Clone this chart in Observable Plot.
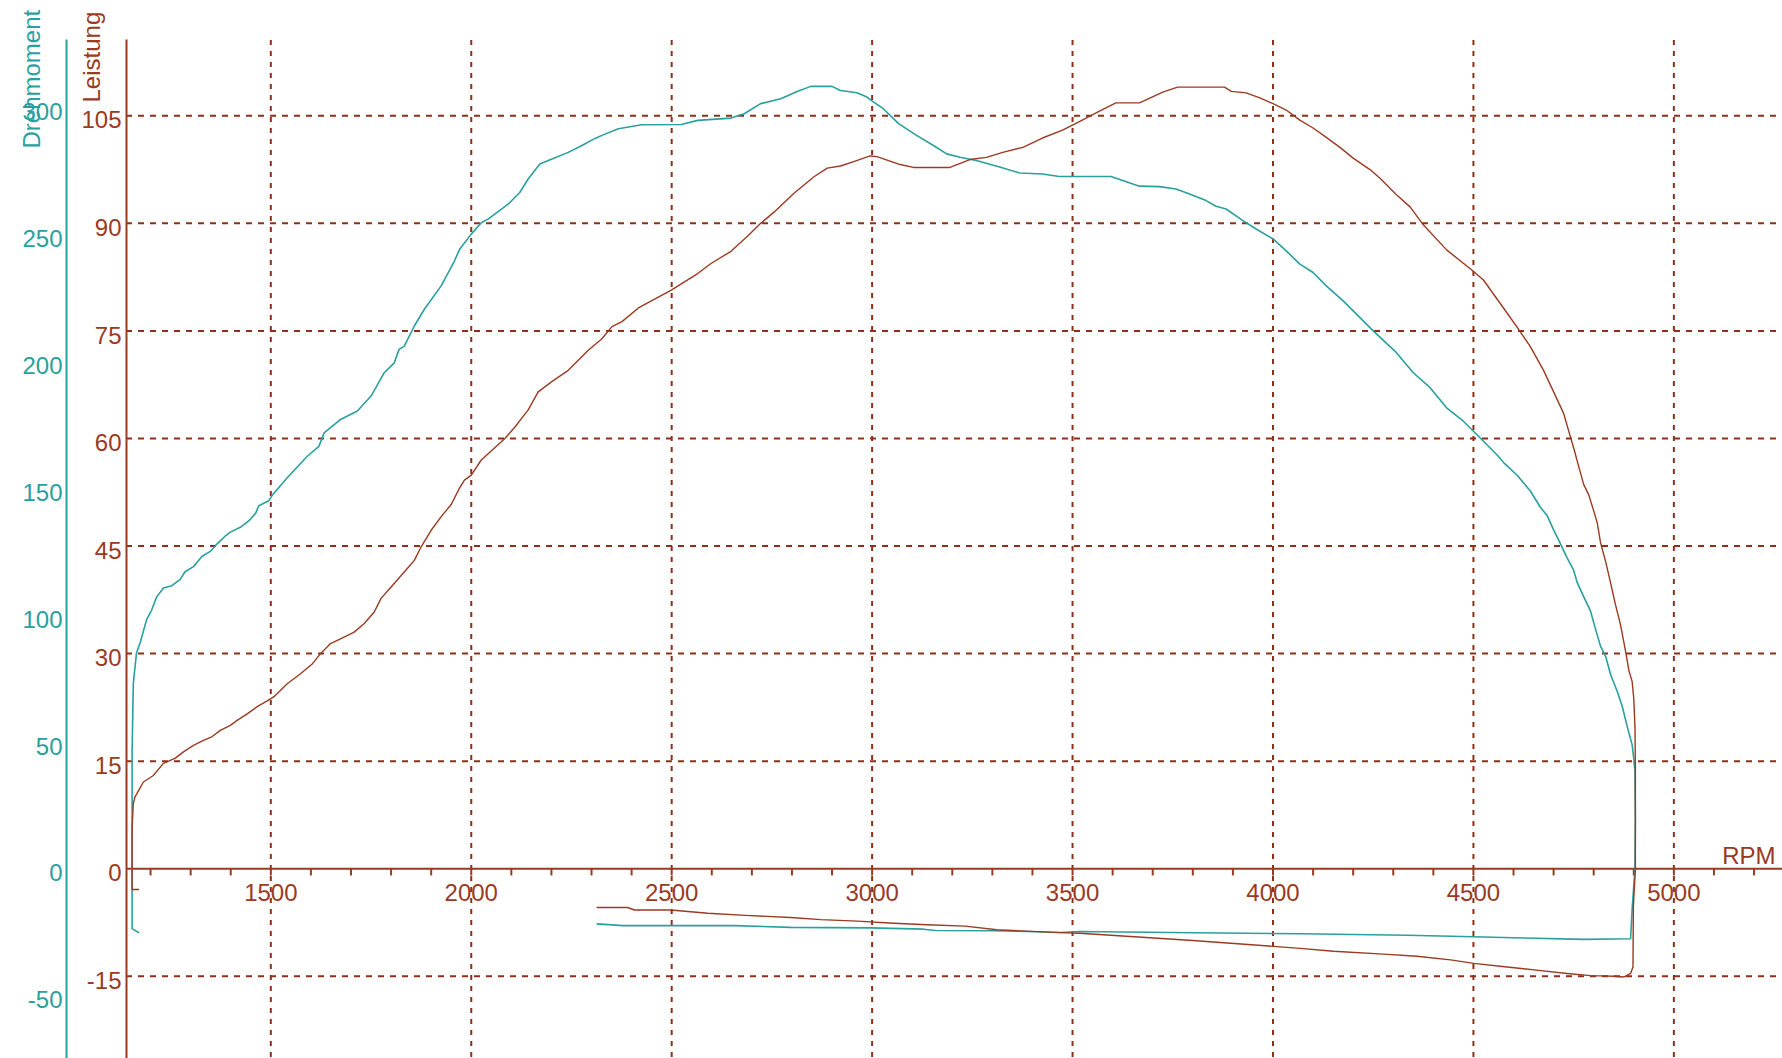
<!DOCTYPE html>
<html>
<head>
<meta charset="utf-8">
<script src="https://cdn.jsdelivr.net/npm/d3@7"></script>
<script src="https://cdn.jsdelivr.net/npm/@observablehq/plot@0.6"></script>
<style>
html, body { margin: 0; padding: 0; background: #fff; }
svg { display: block; }
</style>
</head>
<body>
<div id="chart"></div>
<script>
// Leistung (power) : [RPM, value]
const leistung = [[1170,-2.9],[1154,-2.9],[1154,0],[1154,5.8],[1157,9.1],[1161,10],[1170,10.9],[1182,12.1],[1207,13],[1232,14.7],[1245,15],[1261,15.4],[1282,16.3],[1307,17.2],[1332,17.9],[1353,18.4],[1374,19.3],[1399,20],[1416,20.7],[1441,21.6],[1466,22.6],[1491,23.4],[1508,24],[1541,25.8],[1574,27.2],[1604,28.6],[1624,30],[1649,31.4],[1675,32.1],[1708,33],[1733,34.2],[1758,35.8],[1775,37.7],[1800,39.3],[1816,40.3],[1841,41.9],[1858,43],[1875,44.9],[1900,47.2],[1925,49.1],[1950,50.8],[1970,53],[1983,54.2],[2000,54.9],[2025,57],[2084,60],[2109,61.6],[2142,64],[2167,66.5],[2200,67.9],[2242,69.5],[2292,72.3],[2326,73.9],[2351,75.6],[2376,76.3],[2417,78.2],[2499,80.7],[2565,83],[2598,84.4],[2648,86.1],[2689,88.2],[2722,90],[2756,91.6],[2805,94.2],[2855,96.5],[2888,97.7],[2921,98],[2954,98.6],[2995,99.4],[3012,99.3],[3070,98.2],[3103,97.8],[3194,97.8],[3244,98.9],[3285,99.2],[3326,99.9],[3376,100.6],[3425,101.9],[3475,103],[3517,104.2],[3566,105.6],[3608,106.8],[3667,106.8],[3725,108.3],[3762,109],[3879,109],[3896,108.4],[3933,108.2],[3967,107.5],[4000,106.7],[4033,105.8],[4067,104.4],[4100,103.3],[4133,102],[4167,100.6],[4200,99.1],[4242,97.5],[4267,96.3],[4308,94],[4342,92.3],[4375,89.8],[4433,86.3],[4496,83.5],[4525,82.1],[4575,78.2],[4608,75.6],[4642,72.8],[4675,69.5],[4700,66.5],[4725,63.5],[4742,60.2],[4751,58.5],[4763,56],[4775,53.6],[4788,52.1],[4800,49.9],[4809,48.2],[4817,45.5],[4830,42.8],[4842,39.9],[4854,36.9],[4867,34],[4879,30.5],[4888,27.6],[4896,26.1],[4900,23.7],[4903,19.7],[4904,14.3],[4904,0],[4899,-5.3],[4898,-13.7],[4892,-14.6],[4875,-15.1],[4850,-15],[4792,-14.9],[4734,-14.6],[4651,-14.1],[4584,-13.7],[4501,-13.2],[4443,-12.7],[4359,-12.2],[4276,-11.9],[4151,-11.5],[4068,-11.1],[3800,-10],[3518,-9],[3469,-8.9],[3386,-8.7],[3311,-8.5],[3232,-8],[3137,-7.8],[3054,-7.6],[2963,-7.3],[2872,-7.1],[2797,-6.8],[2685,-6.5],[2590,-6.2],[2498,-5.75],[2407,-5.75],[2390,-5.4],[2314,-5.4]];

// Drehmoment (torque) : [RPM, value]
const drehmoment = [[1170,-25.1],[1154,-23.6],[1154,0],[1154,46],[1157,73],[1165,85],[1174,89],[1182,93.5],[1190,98],[1203,102],[1215,107],[1232,110.6],[1253,111.5],[1274,114],[1286,117],[1307,119],[1328,123],[1349,125],[1366,128],[1386,131],[1399,132.6],[1424,134.5],[1445,137],[1462,140],[1470,143],[1495,145],[1503,147],[1541,154],[1591,162.5],[1620,166.4],[1633,171.7],[1674,177],[1716,180.3],[1750,186.2],[1783,195.4],[1808,199.3],[1820,204.6],[1833,205.9],[1858,213.8],[1883,220.4],[1925,229.6],[1958,239.4],[1971,244],[2000,250],[2025,254.5],[2042,255.9],[2092,261.8],[2121,266.4],[2142,271.7],[2171,277.6],[2200,279.5],[2242,282.2],[2275,284.8],[2309,287.7],[2326,288.9],[2367,291.5],[2425,293.1],[2524,293.2],[2565,294.8],[2648,295.7],[2681,297.4],[2722,301.4],[2772,303.3],[2813,306.2],[2847,308.2],[2900,308.2],[2921,306.6],[2962,305.7],[2987,304],[3004,302],[3028,299.4],[3066,293.5],[3111,288.9],[3153,284.9],[3186,281.6],[3219,280.3],[3260,279],[3318,276.4],[3368,274.1],[3425,273.7],[3467,272.7],[3596,272.7],[3625,271.1],[3667,268.9],[3717,268.7],[3758,267.8],[3792,265.8],[3833,263.2],[3858,261],[3883,259.9],[3925,255.3],[3958,252],[4000,248.1],[4033,243.4],[4067,238.2],[4100,234.9],[4133,229.6],[4175,223.7],[4217,217.1],[4250,211.9],[4308,203.3],[4350,195.4],[4392,189.5],[4433,181.6],[4475,176.3],[4517,169.7],[4558,163.2],[4576,159.9],[4609,155],[4642,148.8],[4667,142.4],[4684,139.1],[4700,133.5],[4713,129.4],[4734,122.4],[4750,117.6],[4759,112.7],[4775,107.2],[4792,101.6],[4804,94.7],[4817,87.7],[4830,83.6],[4842,76.6],[4859,69.7],[4871,64.1],[4884,55.8],[4896,48.8],[4900,43.3],[4903,38.4],[4904,19.7],[4903,0],[4896,-15.7],[4892,-27.6],[4775,-27.8],[4600,-27.2],[4500,-26.8],[4334,-26.2],[4068,-25.6],[3800,-25.2],[3518,-24.7],[3469,-25.1],[3386,-24.7],[3303,-24.4],[3158,-24.3],[3128,-23.8],[2996,-23.3],[2797,-23.1],[2656,-22.4],[2378,-22.4],[2314,-21.7]];

const rpmLabels = [1500, 2000, 2500, 3000, 3500, 4000, 4500, 5000];
const rpmMinorTicks = d3.range(1200, 5201, 100);
const leistungTicks = [-15, 0, 15, 30, 45, 60, 75, 90, 105];
const drehmomentTicks = [-50, 0, 50, 100, 150, 200, 250, 300];

const K = 0.354; // torque units -> Leistung axis units
const brown = "#9a3a22";
const gridBrown = "#8f2f18";
const teal = "#2a9f9f";
const font = "'Liberation Sans', Arial, sans-serif";

const chart = Plot.plot({
  width: 1782,
  height: 1058,
  marginLeft: 126,
  marginRight: 0,
  marginTop: 40,
  marginBottom: 0,
  style: { fontFamily: font, background: "#fff", overflow: "visible" },
  x: { domain: [1140, 5271], axis: null },
  y: { domain: [-26.46, 115.5], axis: null },
  marks: [
    Plot.ruleX(rpmLabels, { x: d => d, stroke: gridBrown, strokeWidth: 2, strokeDasharray: "5,6" }),
    Plot.ruleY(leistungTicks.filter(d => d !== 0), { y: d => d, stroke: gridBrown, strokeWidth: 2, strokeDasharray: "6,6" }),
    Plot.ruleY([0], { y: d => d, stroke: brown, strokeWidth: 2 }),
    Plot.ruleX(rpmMinorTicks, { x: d => d, y1: 0, y2: -1, stroke: brown, strokeWidth: 2 }),
    Plot.text(rpmLabels, { x: d => d, y: 0, dy: 25, text: d => String(d), fill: brown, fontSize: 24 }),
    Plot.text(["RPM"], { frameAnchor: "right", y: 0, dx: -7, dy: -12, textAnchor: "end", fill: brown, fontSize: 24 }),
    Plot.frame({ anchor: "left", stroke: brown, strokeWidth: 2 }),
    Plot.frame({ anchor: "left", stroke: teal, strokeWidth: 2, dx: -60 }),
    Plot.axisY({ ticks: leistungTicks, tickFormat: d => String(d), tickSize: 0, tickPadding: 5, dy: 5, fill: brown, fontSize: 24, label: null }),
    Plot.axisY({ ticks: drehmomentTicks.map(t => t * K), tickFormat: d => String(Math.round(d / K)), tickSize: 0, tickPadding: 4, dx: -60, dy: 5, fill: teal, fontSize: 24, label: null }),
    Plot.line(drehmoment, { x: d => d[0], y: d => d[1] * K, stroke: teal, strokeWidth: 1.6 }),
    Plot.line(leistung, { x: d => d[0], y: d => d[1], stroke: brown, strokeWidth: 1.4 }),
    Plot.text(["Drehmoment"], { frameAnchor: "top-left", rotate: -90, textAnchor: "start", dx: -103.5, dy: 108, fill: teal, fontSize: 24 }),
    Plot.text(["Leistung"], { frameAnchor: "top-left", rotate: -90, textAnchor: "start", dx: -43.5, dy: 62, fill: brown, fontSize: 24 })
  ]
});

document.getElementById("chart").appendChild(chart);
</script>
</body>
</html>
